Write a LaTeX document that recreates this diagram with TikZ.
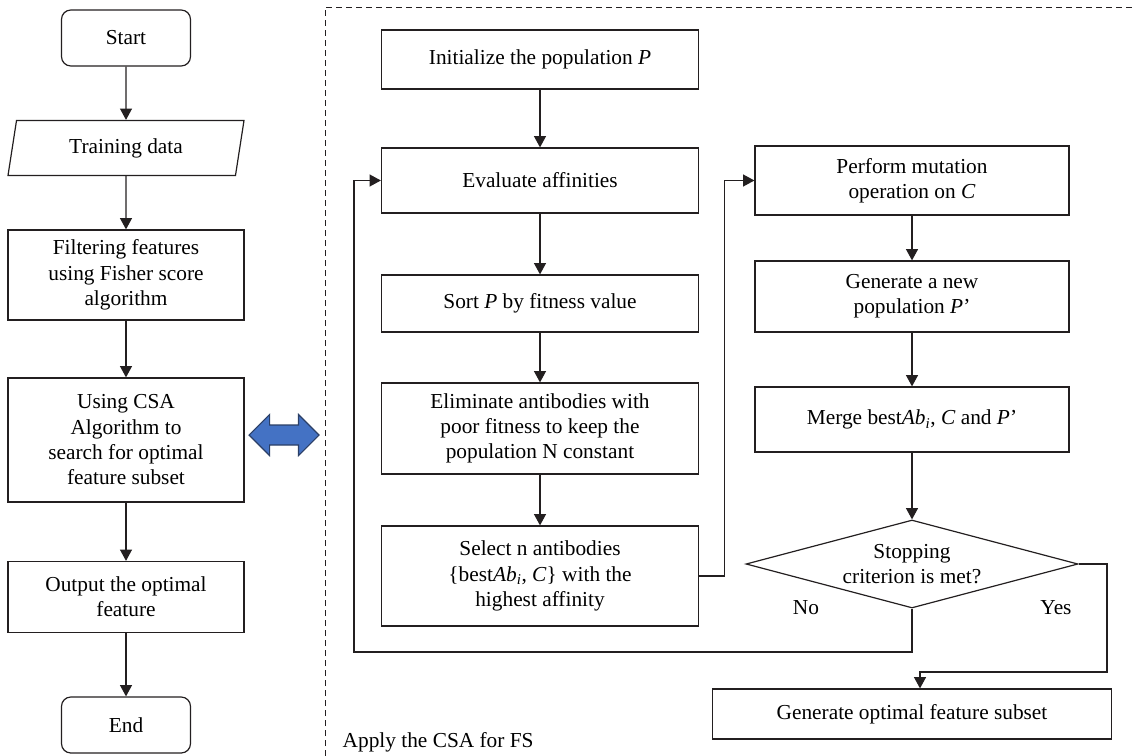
\documentclass[tikz,border=0pt]{standalone}
\usepackage{fontspec}
\setmainfont{Liberation Serif}
\usetikzlibrary{shapes.geometric, shapes.arrows, arrows.meta}

\definecolor{inkline}{HTML}{231F20}
\definecolor{swapblue}{HTML}{4472C4}
\definecolor{swapedge}{HTML}{2B3F66}

\tikzset{
  block/.style={draw=inkline, line width=0.9pt, rectangle, align=center, inner sep=2pt},
  term/.style={block, rounded corners=7pt, minimum width=96.75pt, minimum height=42pt},
  leftbox/.style={block, minimum width=177pt},
  midbox/.style={block, minimum width=237.75pt},
  rightbox/.style={block, minimum width=235.5pt},
  flow/.style={draw=inkline, line width=0.9pt, -{Triangle[length=8.5pt,width=9pt]}},
}

\begin{document}
\begin{tikzpicture}[x=0.75pt, y=-0.75pt, font=\fontsize{16}{19}\selectfont]
    \useasboundingbox (0,0) rectangle (1135,756);

    % left column
    \node[term] (start) at (126,38) {Start};
    \node[block, trapezium, trapezium left angle=71, trapezium right angle=109,
          trapezium stretches body, minimum width=177pt, minimum height=41.25pt] (train) at (126,148) {Training data};
    \node[leftbox, minimum height=67.5pt] (filter) at (126,275) {Filtering features\\using Fisher score\\algorithm};
    \node[leftbox, minimum height=93pt] (csa) at (126,440) {Using CSA\\Algorithm to\\search for optimal\\feature subset};
    \node[leftbox, minimum height=53.25pt] (output) at (126,597) {Output the optimal\\feature};
    \node[term] (stop) at (126,725) {End};

    \draw[flow] (start) -- (train);
    \draw[flow] (train) -- (filter);
    \draw[flow] (filter) -- (csa);
    \draw[flow] (csa) -- (output);
    \draw[flow] (output) -- (stop);

    \node[double arrow, draw=swapedge, line width=0.8pt, fill=swapblue, minimum height=52.5pt,
          double arrow head extend=7.9pt, double arrow head indent=0pt, inner xsep=0pt, inner ysep=7.1pt] (swap) at (284,435) {};

    % the CSA frame
    \draw[inkline, line width=0.6pt, dash pattern=on 4.5pt off 3pt] (325,756) -- (325,7) -- (1135,7);
    \node[anchor=west] (frame) at (338,742) {Apply the CSA for FS};

    % middle column
    \node[midbox, minimum height=44.25pt] (init) at (540,59.5) {Initialize the population \textit{P}};
    \node[midbox, minimum height=48.75pt] (eval) at (540,180.5) {Evaluate affinities};
    \node[midbox, minimum height=42.75pt] (sortp) at (540,303.5) {Sort \textit{P} by fitness value};
    \node[midbox, minimum height=68.25pt] (elim) at (540,428.5) {Eliminate antibodies with\\poor fitness to keep the\\population N constant};
    \node[midbox, minimum height=75pt] (select) at (540,576) {Select n antibodies\\\{best\textit{Ab\textsubscript{i}}, \textit{C}\} with the\\highest affinity};

    \draw[flow] (init) -- (eval);
    \draw[flow] (eval) -- (sortp);
    \draw[flow] (sortp) -- (elim);
    \draw[flow] (elim) -- (select);

    % right column
    \node[rightbox, minimum height=51.75pt] (mutate) at (912,180.5) {Perform mutation\\operation on \textit{C}};
    \node[rightbox, minimum height=53.25pt] (newpop) at (912,296.5) {Generate a new\\population \textit{P}’};
    \node[rightbox, minimum height=48.75pt] (merge) at (912,419.5) {Merge best\textit{Ab\textsubscript{i}}, \textit{C} and \textit{P}’};
    \node[diamond, draw=inkline, line width=0.9pt, aspect=3.77, inner sep=0pt, align=center,
          minimum width=249pt, minimum height=66pt] (crit) at (912,564) {Stopping\\criterion is met?};
    \node[block, minimum width=299.25pt, minimum height=37.5pt] (gen) at (912,714) {Generate optimal feature subset};

    \node (no) at (806,608) {No};
    \node (yes) at (1056,608) {Yes};

    \draw[flow] (select.east) -- ++(25,0) |- (mutate.west);
    \draw[flow] (mutate) -- (newpop);
    \draw[flow] (newpop) -- (merge);
    \draw[flow] (merge) -- (crit);

    \coordinate (loop) at (354,652);
    \coordinate (exit) at (1107,672);
    \draw[flow] (crit.south) |- (loop) |- (eval.west);
    \draw[flow] (crit.east) -| (exit) -| ([xshift=6pt]gen.north);
\end{tikzpicture}
\end{document}
